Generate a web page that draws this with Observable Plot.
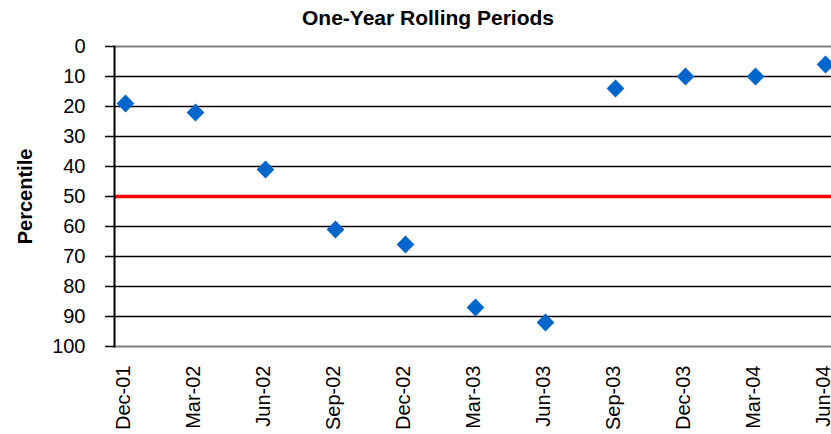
<!DOCTYPE html>
<html>
<head>
<meta charset="utf-8">
<script src="https://cdn.jsdelivr.net/npm/d3@7"></script>
<script src="https://cdn.jsdelivr.net/npm/@observablehq/plot@0.6"></script>
<style>
  html, body { margin: 0; padding: 0; background: #fff; overflow: hidden; }
  svg { font-family: "Liberation Sans", Arial, sans-serif; }
</style>
</head>
<body>
<div id="chart"></div>
<script>
const periods = ["Dec-01","Mar-02","Jun-02","Sep-02","Dec-02","Mar-03","Jun-03","Sep-03","Dec-03","Mar-04","Jun-04"];
const percentiles = [19, 22, 41, 61, 66, 87, 92, 14, 10, 10, 6];
const yTicks = [0,10,20,30,40,50,60,70,80,90,100];
const gridLines = [10,20,30,40,60,70,80,90];
const borderLines = [0,100];
const medianLine = [50];
const title = "One-Year Rolling Periods";

const data = periods.map((p, i) => ({period: p, value: percentiles[i]}));

const chart = Plot.plot({
  width: 831,
  height: 434,
  marginLeft: 114,
  marginRight: 0,
  marginTop: 46,
  marginBottom: 88,
  style: {fontFamily: "'Liberation Sans', Arial, sans-serif", background: "#fff", color: "#000", overflow: "hidden"},
  x: {type: "point", domain: periods, range: [124, 825], padding: 0},
  y: {domain: [0, 100], reverse: true},
  marks: [
    Plot.ruleY(gridLines, {stroke: "#000", strokeWidth: 1.5}),
    Plot.ruleY(borderLines, {stroke: "#808080", strokeWidth: 2}),
    Plot.ruleY(medianLine, {stroke: "#ff0000", strokeWidth: 3.5}),
    Plot.frame({anchor: "left", stroke: "#000", strokeWidth: 2}),
    Plot.axisY({
      ticks: yTicks, tickSize: 9, tickPadding: 20, fontSize: 20,
      stroke: "#000", strokeWidth: 1.5,
      label: "Percentile", labelAnchor: "center", labelArrow: "none", labelOffset: 97
    }),
    Plot.axisX({
      tickSize: 0, tickPadding: 19, rotate: -90, fontSize: 20, textAnchor: "end", dx: -10, label: null
    }),
    Plot.dot(data, {x: "period", y: "value", symbol: "diamond2", r: 8, fill: "#0066CC", stroke: "none"}),
    Plot.text([title], {frameAnchor: "top", dx: -45, dy: -36, lineAnchor: "top", fontWeight: "bold", fontSize: 21, fill: "#000"})
  ]
});

// bold y-axis label
chart.querySelectorAll("g[aria-label='y-axis label'] text").forEach(t => {
  t.setAttribute("font-weight", "bold");
  t.setAttribute("font-size", "20");
});
chart.querySelectorAll("g[aria-label='x-axis tick label']").forEach(g => {
  g.setAttribute("font-size", "20");
  g.querySelectorAll("text").forEach(t => t.setAttribute("font-size", "20"));
});
document.getElementById("chart").appendChild(chart);
</script>
</body>
</html>
